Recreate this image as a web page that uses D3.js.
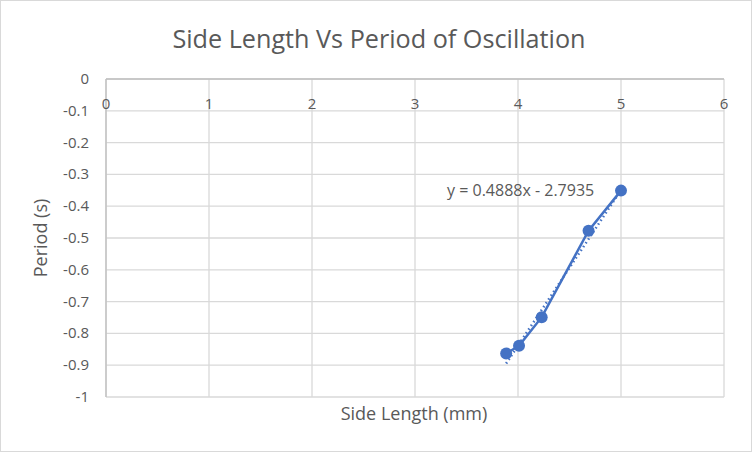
<!DOCTYPE html>
<html>
<head>
<meta charset="utf-8">
<script src="https://cdn.jsdelivr.net/npm/d3@7"></script>
<style>
  body { margin: 0; background: #fff; }
  text { font-family: "Open Sans", sans-serif; fill: #595959; }
</style>
</head>
<body>
<div id="chart"></div>
<script>
// measured side lengths (mm) and periods (s)
var sideLength = [3.885, 4.01, 4.23, 4.685, 5.0];
var period = [-0.863, -0.839, -0.749, -0.477, -0.351];
var xTicks = [0, 1, 2, 3, 4, 5, 6];
var yTicks = [0, -0.1, -0.2, -0.3, -0.4, -0.5, -0.6, -0.7, -0.8, -0.9, -1];
var slope = 0.4888, intercept = -2.7935;

var width = 752, height = 452;
var m = {top: 79, right: 28, bottom: 55, left: 106};

var svg = d3.select("#chart").append("svg").attr("width", width).attr("height", height);

svg.append("rect").attr("x", 0.5).attr("y", 0.5).attr("width", width - 1).attr("height", height - 1)
  .attr("fill", "#fff").attr("stroke", "#d9d9d9");

var x = d3.scaleLinear().domain([0, 6]).range([m.left, width - m.right]);
var y = d3.scaleLinear().domain([-1, 0]).range([height - m.bottom, m.top]);

// grid
svg.append("g").selectAll("line").data(yTicks).join("line")
  .attr("x1", x(0)).attr("x2", x(6)).attr("y1", d => y(d)).attr("y2", d => y(d))
  .attr("stroke", "#d9d9d9").attr("stroke-width", 1.3);
svg.append("g").selectAll("line").data(xTicks).join("line")
  .attr("x1", d => x(d)).attr("x2", d => x(d)).attr("y1", y(0)).attr("y2", y(-1))
  .attr("stroke", "#d9d9d9").attr("stroke-width", 1.3);

// axis lines
svg.append("line").attr("x1", x(0)).attr("x2", x(6)).attr("y1", y(0)).attr("y2", y(0))
  .attr("stroke", "#bfbfbf").attr("stroke-width", 1.3);
svg.append("line").attr("x1", x(0)).attr("x2", x(0)).attr("y1", y(0)).attr("y2", y(-1))
  .attr("stroke", "#bfbfbf").attr("stroke-width", 1.3);

// tick labels
svg.append("g").selectAll("text").data(xTicks).join("text")
  .attr("x", d => x(d)).attr("y", y(0) + 30)
  .attr("text-anchor", "middle").attr("font-size", 15).text(d => d);
svg.append("g").selectAll("text").data(yTicks).join("text")
  .attr("x", x(0) - 17).attr("y", d => y(d) + 5)
  .attr("text-anchor", "end").attr("font-size", 15).text(d => d);

// titles
svg.append("text").attr("x", 379).attr("y", 48).attr("text-anchor", "middle")
  .attr("font-size", 25.2).text("Side Length Vs Period of Oscillation");
svg.append("text").attr("x", 414).attr("y", 420).attr("text-anchor", "middle")
  .attr("font-size", 18).text("Side Length (mm)");
svg.append("text").attr("transform", "translate(47," + y(-0.5) + ") rotate(-90)")
  .attr("text-anchor", "middle").attr("font-size", 18).text("Period (s)");

var pts = sideLength.map((d, i) => [d, period[i]]);

// trendline
var x0 = d3.min(sideLength), x1 = d3.max(sideLength);
svg.append("line")
  .attr("x1", x(x0)).attr("y1", y(slope * x0 + intercept))
  .attr("x2", x(x1)).attr("y2", y(slope * x1 + intercept))
  .attr("stroke", "#4472c4").attr("stroke-width", 2.5).attr("stroke-dasharray", "1.5,3");

// series line
svg.append("path").datum(pts)
  .attr("d", d3.line().x(d => x(d[0])).y(d => y(d[1])))
  .attr("fill", "none").attr("stroke", "#4472c4").attr("stroke-width", 2.5);

svg.append("g").selectAll("circle").data(pts).join("circle")
  .attr("cx", d => x(d[0])).attr("cy", d => y(d[1])).attr("r", 6)
  .attr("fill", "#4472c4");

svg.append("text").attr("x", 447).attr("y", 196).attr("font-size", 16)
  .text("y = 0.4888x - 2.7935");
</script>
</body>
</html>
